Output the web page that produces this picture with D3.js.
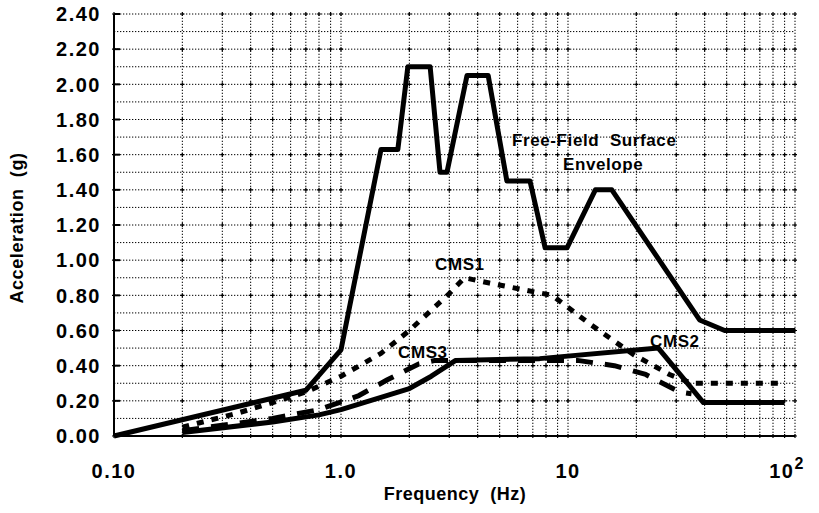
<!DOCTYPE html>
<html>
<head>
<meta charset="utf-8">
<script src="https://cdn.jsdelivr.net/npm/d3@7"></script>
<style>
  body { margin: 0; background: #fff; }
  text { font-family: "Liberation Sans", Arial, sans-serif; font-weight: bold; fill: #000; white-space: pre; }
</style>
</head>
<body>
<div id="chart"></div>
<script>
// Data: [frequency Hz, acceleration g]
const freeField = [[0.1, 0], [0.7, 0.26], [1.0, 0.49], [1.5, 1.63], [1.78, 1.63], [1.97, 2.10], [2.47, 2.10],
  [2.73, 1.50], [2.93, 1.50], [3.59, 2.05], [4.45, 2.05], [5.38, 1.45], [6.8, 1.45], [7.93, 1.07],
  [9.9, 1.07], [13.2, 1.40], [15.6, 1.40], [38, 0.66], [49, 0.60], [100, 0.60]];
const cms1 = [[0.2, 0.05], [0.35, 0.13], [0.5, 0.19], [0.7, 0.25], [1.0, 0.34], [1.5, 0.47], [2.0, 0.60],
  [3.0, 0.81], [3.5, 0.90], [4.5, 0.87], [8.5, 0.80], [12.7, 0.63], [19.6, 0.46], [28, 0.35], [35, 0.30], [90, 0.30]];
const cms2 = [[0.2, 0.02], [0.5, 0.08], [0.8, 0.12], [1.0, 0.15], [1.5, 0.22], [2.0, 0.27], [2.5, 0.34],
  [3.2, 0.43], [7.5, 0.44], [25, 0.50], [39.5, 0.19], [90, 0.19]];
const cms3 = [[0.2, 0.03], [0.5, 0.10], [0.8, 0.15], [1.2, 0.23], [1.6, 0.32], [2.2, 0.41], [2.6, 0.43],
  [11, 0.43], [16, 0.40], [22, 0.35], [31, 0.25], [35, 0.24]];

const yTicks = [0, 0.2, 0.4, 0.6, 0.8, 1.0, 1.2, 1.4, 1.6, 1.8, 2.0, 2.2, 2.4];
const xTicks = [0.1, 1, 10, 100];
const xTickLabels = ["0.10", "1.0", "10", "10"];

const width = 819, height = 513;
const margin = { left: 114, right: 24, top: 14, bottom: 77 };

const svg = d3.select("#chart").append("svg")
  .attr("width", width).attr("height", height);

const x = d3.scaleLog().domain([0.1, 100]).range([margin.left, width - margin.right]);
const y = d3.scaleLinear().domain([0, 2.4]).range([height - margin.bottom, margin.top]);

// Grid
const xGrid = [];
for (let d = 0.1; d < 100; d *= 10) for (let k = 1; k <= 9; k++) xGrid.push(+(d * k).toPrecision(3));
xGrid.push(100);
const yGrid = d3.range(0, 25).map(i => i / 10);

const grid = svg.append("g").attr("stroke", "#000").attr("stroke-width", 1).attr("stroke-dasharray", "1.3,1.7");
grid.selectAll(".v").data(xGrid).enter().append("line")
  .attr("x1", d => x(d)).attr("x2", d => x(d)).attr("y1", y(0)).attr("y2", y(2.4));
grid.selectAll(".h").data(yGrid).enter().append("line")
  .attr("x1", x(0.1)).attr("x2", x(100)).attr("y1", d => y(d)).attr("y2", d => y(d));

// little crosses at major intersections
const cross = [];
xGrid.forEach(a => yTicks.forEach(b => cross.push([a, b])));
svg.append("g").attr("stroke", "#000").attr("stroke-width", 1.2)
  .selectAll("path").data(cross).enter().append("path")
  .attr("d", d => `M${x(d[0]) - 2},${y(d[1])}h4M${x(d[0])},${y(d[1]) - 2}v4`);

// Axes
svg.append("line").attr("x1", x(0.1)).attr("x2", x(0.1)).attr("y1", y(0)).attr("y2", y(2.4))
  .attr("stroke", "#000").attr("stroke-width", 2);
svg.append("line").attr("x1", x(0.1)).attr("x2", x(100)).attr("y1", y(0)).attr("y2", y(0))
  .attr("stroke", "#000").attr("stroke-width", 2);
svg.append("g").attr("stroke", "#000").attr("stroke-width", 2)
  .selectAll("line").data(yTicks).enter().append("line")
  .attr("x1", x(0.1)).attr("x2", x(0.1) + 6).attr("y1", d => y(d)).attr("y2", d => y(d));

svg.append("g").selectAll("text").data(yTicks).enter().append("text")
  .attr("x", 101).attr("y", d => y(d)).attr("dy", "0.36em")
  .attr("text-anchor", "end").style("font-size", "20px").style("letter-spacing", "1.5px")
  .text(d => d.toFixed(2));

const xl = svg.append("g").selectAll("text").data(xTicks).enter().append("text")
  .attr("x", (d, i) => x(d) - (i === 3 ? 8 : 0)).attr("y", 478)
  .attr("text-anchor", "middle").style("font-size", "20px").style("letter-spacing", "1.5px")
  .text((d, i) => xTickLabels[i]);
xl.filter((d, i) => i === 3).append("tspan").attr("dy", "-0.55em").style("font-size", "16px").text("2");

svg.append("text").attr("x", 455).attr("y", 500).attr("text-anchor", "middle")
  .style("font-size", "18px").style("letter-spacing", "0.5px").text("Frequency  (Hz)");
svg.append("text").attr("transform", `translate(23,${y(1.2) + 3}) rotate(-90)`)
  .attr("text-anchor", "middle").style("font-size", "18px").style("letter-spacing", "0.6px")
  .text("Acceleration  (g)");

// Curves
const line = d3.line().x(d => x(d[0])).y(d => y(d[1]));
const series = [
  { data: freeField, dash: null },
  { data: cms2, dash: null },
  { data: cms1, dash: "7,8" },
  { data: cms3, dash: "17,12" }
];
svg.append("g").selectAll("path").data(series).enter().append("path")
  .attr("d", d => line(d.data))
  .attr("fill", "none").attr("stroke", "#000").attr("stroke-width", 5)
  .attr("stroke-linejoin", "round")
  .attr("stroke-dasharray", d => d.dash);

// Labels
const labels = svg.append("g").style("font-size", "17px").style("letter-spacing", "0.6px");
labels.append("text").attr("x", 512).attr("y", 146).text("Free-Field  Surface");
labels.append("text").attr("x", 563).attr("y", 170).text("Envelope");
labels.append("text").attr("x", 435).attr("y", 270).text("CMS1");
labels.append("text").attr("x", 398).attr("y", 358).text("CMS3");
labels.append("text").attr("x", 650).attr("y", 347).text("CMS2");
</script>
</body>
</html>
